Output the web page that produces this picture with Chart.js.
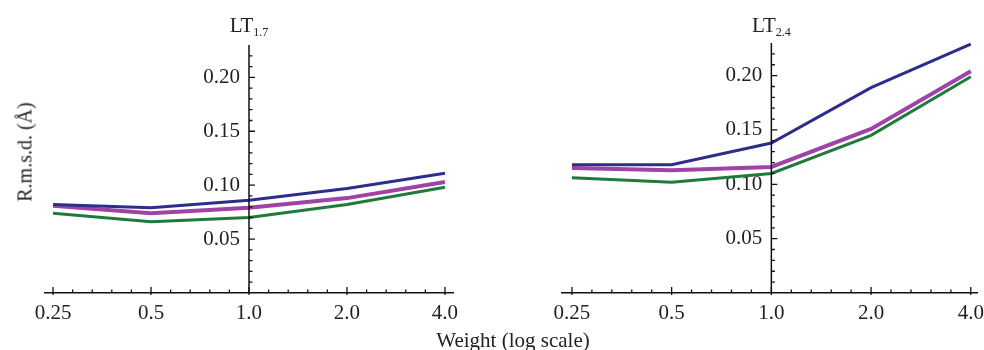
<!DOCTYPE html>
<html>
<head>
<meta charset="utf-8">
<script src="https://cdn.jsdelivr.net/npm/chart.js@4.4.1/dist/chart.umd.min.js"></script>
<style>
    html, body { margin: 0; padding: 0; background: #fff; }
    #wrap { position: relative; width: 984px; height: 350px; overflow: hidden; font-family: 'Liberation Serif', 'DejaVu Serif', serif; color: #222; }
    canvas { position: absolute; top: 0; }
    #yLabel { position: absolute; left: 25px; top: 152px; transform: translate(-50%, -50%) rotate(-90deg); font-size: 20px; white-space: nowrap; }
    #xLabel { position: absolute; left: 513px; top: 340px; transform: translate(-50%, -50%); font-size: 21px; white-space: nowrap; }
</style>
</head>
<body>
<div id="wrap">
    <canvas id="leftChart" width="490" height="350" style="left:0"></canvas>
    <canvas id="rightChart" width="494" height="350" style="left:490px"></canvas>
    <div id="yLabel">R.m.s.d. (Å)</div>
    <div id="xLabel">Weight (log scale)</div>
</div>
<script>
// Data
const weights = [0.25, 0.5, 1.0, 2.0, 4.0];
const weightLabels = ['0.25', '0.5', '1.0', '2.0', '4.0'];
const rmsdTicks = [0.05, 0.10, 0.15, 0.20];

// LT 1.7 panel
const lt17Blue = [0.082, 0.079, 0.086, 0.097, 0.111];
const lt17Magenta = [0.081, 0.074, 0.079, 0.088, 0.103];
const lt17Green = [0.074, 0.066, 0.070, 0.082, 0.098];

// LT 2.4 panel
const lt24Blue = [0.118, 0.118, 0.138, 0.189, 0.229];
const lt24Magenta = [0.115, 0.113, 0.116, 0.151, 0.204];
const lt24Green = [0.106, 0.102, 0.110, 0.145, 0.199];

const BLUE = '#2d2d8a';
const MAGENTA = '#a043a6';
const GREEN = '#1f7a3c';
const FONT = "'Liberation Serif', 'DejaVu Serif', serif";

// the y axis crosses at weight 1.0; its labels sit ~9px left of it
const AXIS_CROSS = 1.0;
const LABEL_ANCHOR = Math.pow(2, -9 / 98);

function toPoints(values) {
    return weights.map((w, i) => ({ x: w, y: values[i] }));
}

/**
 * Vertical axis line, Mathematica-style inward ticks, subscripted panel title
 */
const axisDecor = {
    id: 'axisDecor',
    afterDraw(chart, args, opts) {
        const ctx = chart.ctx;
        const xs = chart.scales.x;
        const ys = chart.scales.y;
        const x0 = xs.getPixelForValue(AXIS_CROSS);
        const y0 = ys.getPixelForValue(0);

        ctx.save();
        ctx.strokeStyle = '#111';
        ctx.lineWidth = 1.5;
        ctx.beginPath();
        ctx.moveTo(x0, y0);
        ctx.lineTo(x0, chart.chartArea.top);
        ctx.stroke();

        ctx.lineWidth = 1.3;
        ctx.beginPath();
        // x ticks: majors at weights, 4 minors between
        weights.forEach((w, i) => {
            const px = xs.getPixelForValue(w);
            ctx.moveTo(px, y0 + 2);
            ctx.lineTo(px, y0 - 6);
            if (i < weights.length - 1) {
                for (let k = 1; k < 5; k++) {
                    const mx = xs.getPixelForValue(w * Math.pow(2, k / 5));
                    ctx.moveTo(mx, y0);
                    ctx.lineTo(mx, y0 - 3.5);
                }
            }
        });
        // y ticks: majors every 0.05, minors every 0.01
        for (let v = 1; v <= 22; v++) {
            const py = ys.getPixelForValue(v / 100);
            const len = v % 5 === 0 ? 6 : 3.5;
            ctx.moveTo(x0, py);
            ctx.lineTo(x0 + len, py);
        }
        ctx.stroke();

        // title LT with subscript, centred on the vertical axis
        ctx.fillStyle = '#222';
        ctx.textBaseline = 'alphabetic';
        ctx.font = '21px ' + FONT;
        const mainW = ctx.measureText('LT').width;
        ctx.font = '12px ' + FONT;
        const subW = ctx.measureText(opts.sub).width;
        const left = x0 - (mainW + subW) / 2;
        ctx.font = '21px ' + FONT;
        ctx.fillText('LT', left, 32);
        ctx.font = '12px ' + FONT;
        ctx.fillText(opts.sub, left + mainW, 36);
        ctx.restore();
    }
};

function makeChart(canvasId, series, xMin, xMax, padding, sub) {
    const ctx = document.getElementById(canvasId).getContext('2d');
    return new Chart(ctx, {
        type: 'line',
        data: {
            datasets: [
                { data: toPoints(series[0]), borderColor: BLUE, borderWidth: 3 },
                { data: toPoints(series[1]), borderColor: MAGENTA, borderWidth: 4 },
                { data: toPoints(series[2]), borderColor: GREEN, borderWidth: 3 }
            ].map(d => Object.assign(d, { pointRadius: 0, tension: 0, fill: false }))
        },
        options: {
            responsive: false,
            animation: false,
            layout: { padding: padding },
            plugins: {
                legend: { display: false },
                tooltip: { enabled: false },
                axisDecor: { sub: sub }
            },
            scales: {
                x: {
                    type: 'logarithmic',
                    position: { y: 0 },
                    min: xMin,
                    max: xMax,
                    grid: { display: false },
                    border: { display: true, color: '#111', width: 1.5 },
                    afterBuildTicks: axis => { axis.ticks = weights.map(v => ({ value: v })); },
                    ticks: {
                        color: '#222',
                        font: { family: FONT, size: 21 },
                        padding: 0,
                        maxRotation: 0,
                        autoSkip: false,
                        callback: value => weightLabels[weights.indexOf(value)]
                    }
                },
                y: {
                    type: 'linear',
                    position: { x: LABEL_ANCHOR },
                    min: 0,
                    max: 0.23,
                    grid: { display: false },
                    border: { display: false },
                    afterBuildTicks: axis => { axis.ticks = rmsdTicks.map(v => ({ value: v })); },
                    ticks: {
                        color: '#222',
                        font: { family: FONT, size: 21 },
                        callback: value => value.toFixed(2)
                    }
                }
            }
        },
        plugins: [axisDecor]
    });
}

makeChart('leftChart', [lt17Blue, lt17Magenta, lt17Green], 0.2362, 4.234,
    { left: 45, right: 37, top: 45, bottom: 57 }, '1.7');
makeChart('rightChart', [lt24Blue, lt24Magenta, lt24Green], 0.2333, 4.199,
    { left: 72, right: 6, top: 43, bottom: 57 }, '2.4');
</script>
</body>
</html>
